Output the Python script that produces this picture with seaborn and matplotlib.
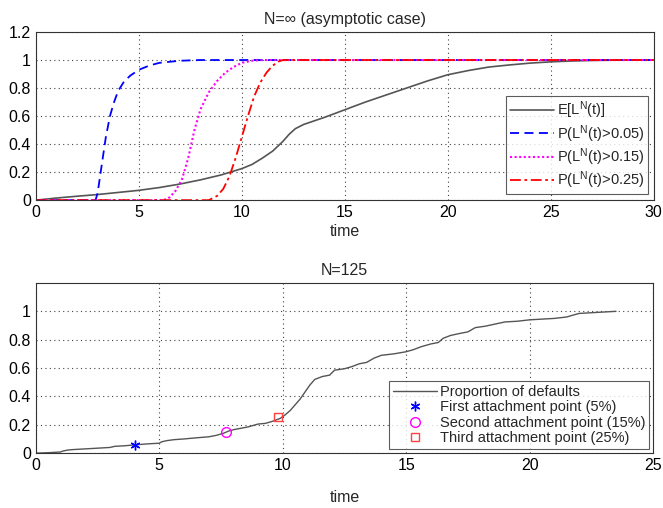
import matplotlib
matplotlib.use('Agg')
import matplotlib.pyplot as plt
import seaborn as sns
import numpy as np

# asymptotic case (N = infinity)
t_mean = [0, 1, 2, 3, 4, 5, 6, 7, 8, 9, 10, 10.5, 11, 11.5, 12, 12.3, 12.6, 13, 13.5, 14,
          15, 16, 17, 18, 19, 20, 21, 22, 23, 24, 25, 26, 27, 28, 30]
mean_loss = [0, 0.015, 0.028, 0.04, 0.055, 0.07, 0.09, 0.115, 0.145, 0.18, 0.225, 0.255,
             0.3, 0.35, 0.42, 0.47, 0.51, 0.54, 0.565, 0.59, 0.645, 0.7, 0.75, 0.8, 0.85,
             0.895, 0.925, 0.95, 0.965, 0.978, 0.987, 0.993, 0.997, 0.999, 1.0]

t_p05 = [0, 2.9, 3.0, 3.2, 3.4, 3.6, 3.8, 4.0, 4.3, 4.6, 5.0, 5.5, 6.0, 7.0, 8.0, 30]
p05 = [0, 0, 0.05, 0.25, 0.45, 0.6, 0.7, 0.78, 0.85, 0.89, 0.93, 0.96, 0.98, 0.995, 1.0, 1.0]

t_p15 = [0, 6.2, 6.5, 6.8, 7.1, 7.4, 7.7, 8.0, 8.4, 8.8, 9.2, 9.6, 10.0, 10.5, 11.0, 30]
p15 = [0, 0, 0.02, 0.07, 0.15, 0.3, 0.5, 0.65, 0.77, 0.85, 0.91, 0.95, 0.98, 0.995, 1.0, 1.0]

t_p25 = [0, 8.4, 8.8, 9.1, 9.4, 9.7, 10.0, 10.3, 10.6, 10.9, 11.2, 11.5, 11.8, 12.0, 30]
p25 = [0, 0, 0.03, 0.08, 0.17, 0.3, 0.45, 0.6, 0.74, 0.84, 0.91, 0.96, 0.99, 1.0, 1.0]

# one simulated path, N = 125
t_sim = [0, 0.5, 1.0, 1.1, 1.3, 1.5, 2.0, 2.5, 3.0, 3.2, 3.6, 4.0, 4.5, 5.0, 5.1, 5.3,
         5.6, 6.0, 6.5, 7.0, 7.3, 7.6, 7.8, 8.0, 8.3, 8.6, 9.0, 9.3, 9.6, 9.9, 10.1,
         10.3, 10.5, 10.7, 10.9, 11.1, 11.3, 11.6, 11.9, 12.1, 12.5, 12.8, 13.1, 13.4,
         13.7, 14.0, 14.5, 15.0, 15.3, 15.6, 16.0, 16.3, 16.5, 16.8, 17.2, 17.5, 17.8,
         18.2, 18.6, 19.0, 19.5, 20.0, 20.5, 21.0, 21.5, 22.0, 22.5, 23.0, 23.5]
p_sim = [0, 0.003, 0.008, 0.015, 0.022, 0.025, 0.03, 0.035, 0.04, 0.048, 0.052, 0.058,
         0.065, 0.07, 0.08, 0.088, 0.095, 0.1, 0.108, 0.115, 0.125, 0.14, 0.155, 0.165,
         0.175, 0.185, 0.205, 0.21, 0.225, 0.245, 0.27, 0.3, 0.34, 0.38, 0.43, 0.48,
         0.52, 0.54, 0.55, 0.585, 0.595, 0.61, 0.63, 0.64, 0.67, 0.69, 0.7, 0.715, 0.73,
         0.75, 0.77, 0.78, 0.81, 0.83, 0.845, 0.855, 0.885, 0.895, 0.91, 0.925, 0.93,
         0.94, 0.945, 0.95, 0.96, 0.985, 0.99, 0.995, 1.0]

attach_t = [4.0, 7.7, 9.8]
attach_p = [0.055, 0.15, 0.255]
attach_labels = ['First attachment point (5%)', 'Second attachment point (15%)',
                 'Third attachment point (25%)']

sns.set_style('white')
plt.rcParams['font.family'] = ['Liberation Sans', 'DejaVu Sans']
plt.rcParams['mathtext.fontset'] = 'custom'
plt.rcParams['mathtext.rm'] = 'Liberation Sans'
plt.rcParams['mathtext.it'] = 'Liberation Sans'
plt.rcParams['font.size'] = 11


def style_axes(ax):
  ax.grid(True, linestyle=(0, (1, 3)), color='#444444', linewidth=0.8)
  ax.tick_params(direction='in', length=4, labelsize=11.5, colors='black')
  for s in ax.spines.values():
    s.set_color('#333333')
    s.set_linewidth(0.8)


fig = plt.figure(figsize=(6.63, 5.08), dpi=100)
ax1 = fig.add_axes([0.054, 0.606, 0.932, 0.331])
ax2 = fig.add_axes([0.054, 0.108, 0.931, 0.335])

sns.lineplot(x=t_mean, y=mean_loss, ax=ax1, color='#555555', linewidth=1.2,
             label='E[L$^\\mathrm{N}$(t)]')
sns.lineplot(x=t_p05, y=p05, ax=ax1, color='#0000ff', linewidth=1.3, linestyle=(0, (5, 3)),
             label='P(L$^\\mathrm{N}$(t)>0.05)')
sns.lineplot(x=t_p15, y=p15, ax=ax1, color='#ff00ff', linewidth=1.5, linestyle=(0, (1, 1.2)),
             label='P(L$^\\mathrm{N}$(t)>0.15)')
sns.lineplot(x=t_p25, y=p25, ax=ax1, color='#ff0000', linewidth=1.3,
             linestyle=(0, (6, 2, 1.5, 2)), label='P(L$^\\mathrm{N}$(t)>0.25)')
ax1.set_xlim(0, 30)
ax1.set_ylim(0, 1.2)
ax1.set_xticks(np.arange(0, 31, 5))
ax1.set_yticks(np.arange(0, 1.21, 0.2))
ax1.set_yticklabels(['0', '0.2', '0.4', '0.6', '0.8', '1', '1.2'])
ax1.set_title('N=∞ (asymptotic case)', fontsize=11.5, pad=6)
ax1.set_xlabel('time', fontsize=11.5, labelpad=3)
style_axes(ax1)
leg1 = ax1.legend(loc='lower right', fontsize=10.5, frameon=True, fancybox=False,
                  borderaxespad=0.4, handlelength=3.0, handletextpad=0.2,
                  labelspacing=0.1, borderpad=0.25)
leg1.get_frame().set_edgecolor('#333333')
leg1.get_frame().set_linewidth(0.8)

sns.lineplot(x=t_sim, y=p_sim, ax=ax2, color='#555555', linewidth=1.0,
             label='Proportion of defaults')
ax2.plot(attach_t[0], attach_p[0], linestyle='none', marker=(6, 2, 0), color='#0000ff',
         markersize=7, label=attach_labels[0])
ax2.plot(attach_t[1], attach_p[1], linestyle='none', marker='o', mfc='none', mec='#ff00ff',
         markersize=7, label=attach_labels[1])
ax2.plot(attach_t[2], attach_p[2], linestyle='none', marker='s', mfc='none', mec='#ff4040',
         markersize=6, label=attach_labels[2])
ax2.set_xlim(0, 25)
ax2.set_ylim(0, 1.2)
ax2.set_xticks(np.arange(0, 26, 5))
ax2.set_yticks(np.arange(0, 1.01, 0.2))
ax2.set_yticklabels(['0', '0.2', '0.4', '0.6', '0.8', '1'])
ax2.set_title('N=125', fontsize=11.5, pad=6)
ax2.set_xlabel('time', fontsize=11.5, labelpad=12)
style_axes(ax2)
leg2 = ax2.legend(loc='lower right', fontsize=10.5, frameon=True, fancybox=False,
                  borderaxespad=0.3, handlelength=3.0, handletextpad=0.2,
                  labelspacing=0.1, borderpad=0.25)
leg2.get_frame().set_edgecolor('#333333')
leg2.get_frame().set_linewidth(0.8)

fig.savefig('out.png', dpi=100)
